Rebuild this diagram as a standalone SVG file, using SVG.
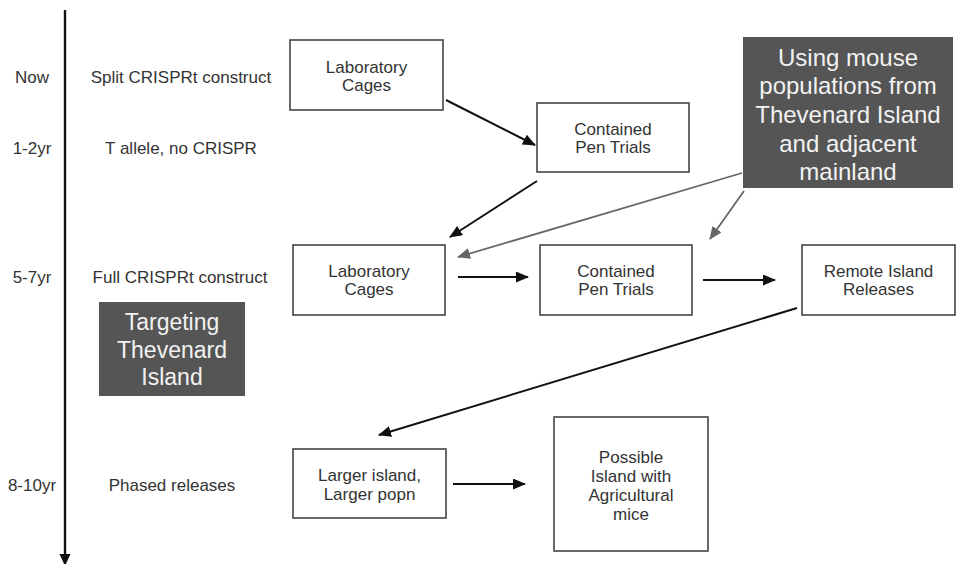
<svg xmlns="http://www.w3.org/2000/svg" width="961" height="564" viewBox="0 0 961 564">
<defs>
<marker id="ah" markerUnits="userSpaceOnUse" markerWidth="13" markerHeight="11" refX="12" refY="5.5" orient="auto"><path d="M0,0 L13,5.5 L0,11 z" fill="#111"/></marker>
<marker id="ahg" markerUnits="userSpaceOnUse" markerWidth="13" markerHeight="11" refX="12" refY="5.5" orient="auto"><path d="M0,0 L13,5.5 L0,11 z" fill="#666"/></marker>
<style>
.box{fill:#fff;stroke:#444;stroke-width:1.6}
.dark{fill:#555;stroke:none}
.t{font-family:"Liberation Sans",Arial,Helvetica,sans-serif;font-size:17px;fill:#333;text-anchor:middle;dominant-baseline:central}
.w{font-family:"Liberation Sans",Arial,Helvetica,sans-serif;font-size:24px;fill:#f2f2f2;text-anchor:middle;dominant-baseline:central}
.w2{font-size:23px}
.c{fill:none;stroke:#111;stroke-width:2;marker-end:url(#ah)}
.g{fill:none;stroke:#666;stroke-width:1.8;marker-end:url(#ahg)}
</style>
</defs>
<g id="timeline">
<line x1="65" y1="10" x2="65" y2="556" stroke="#111" stroke-width="2.4"/>
<path d="M59.5,554 L70.5,554 L65,566 z" fill="#111"/>
<text class="t" x="32" y="77">Now</text>
<text class="t" x="32" y="148">1-2yr</text>
<text class="t" x="32" y="277">5-7yr</text>
<text class="t" x="32" y="485">8-10yr</text>
<text class="t" x="181" y="77">Split CRISPRt construct</text>
<text class="t" x="181" y="148">T allele, no CRISPR</text>
<text class="t" x="180" y="277">Full CRISPRt construct</text>
<text class="t" x="172" y="485">Phased releases</text>
</g>
<g id="lab1"><rect class="box" x="290" y="40" width="153" height="70"/><text class="t" x="366.5" y="67">Laboratory</text><text class="t" x="366.5" y="85">Cages</text></g>
<g id="pen1"><rect class="box" x="537" y="103" width="152" height="69"/><text class="t" x="613" y="129">Contained</text><text class="t" x="613" y="147">Pen Trials</text></g>
<g id="mouse"><rect class="dark" x="743" y="37" width="210" height="151"/>
<text class="w" x="848" y="57">Using mouse</text><text class="w" x="848" y="85">populations from</text><text class="w" x="848" y="114">Thevenard Island</text><text class="w" x="848" y="143">and adjacent</text><text class="w" x="848" y="171">mainland</text></g>
<g id="lab2"><rect class="box" x="293" y="245" width="152" height="70"/><text class="t" x="369" y="271">Laboratory</text><text class="t" x="369" y="289">Cages</text></g>
<g id="pen2"><rect class="box" x="540" y="245" width="152" height="70"/><text class="t" x="616" y="271">Contained</text><text class="t" x="616" y="289">Pen Trials</text></g>
<g id="remote"><rect class="box" x="802" y="245" width="153" height="70"/><text class="t" x="878.5" y="271">Remote Island</text><text class="t" x="878.5" y="289">Releases</text></g>
<g id="targeting"><rect class="dark" x="99" y="302" width="146" height="94"/><text class="w w2" x="172" y="322">Targeting</text><text class="w w2" x="172" y="350">Thevenard</text><text class="w w2" x="172" y="377">Island</text></g>
<g id="larger"><rect class="box" x="293" y="449" width="153" height="69"/><text class="t" x="369.5" y="475">Larger island,</text><text class="t" x="369.5" y="494">Larger popn</text></g>
<g id="possible"><rect class="box" x="554" y="417" width="154" height="134"/><text class="t" x="631" y="457">Possible</text><text class="t" x="631" y="476">Island with</text><text class="t" x="631" y="495">Agricultural</text><text class="t" x="631" y="514">mice</text></g>
<g id="connectors">
<line class="c" x1="446" y1="100" x2="535" y2="145"/>
<line class="c" x1="537" y1="181" x2="450" y2="237"/>
<line class="g" x1="742" y1="173" x2="458" y2="257"/>
<line class="g" x1="744" y1="191" x2="710" y2="239"/>
<line class="c" x1="458" y1="277" x2="528" y2="277"/>
<line class="c" x1="703" y1="280" x2="775" y2="280"/>
<line class="c" x1="797" y1="308" x2="379" y2="435"/>
<line class="c" x1="453" y1="484" x2="525" y2="484"/>
</g>
</svg>
